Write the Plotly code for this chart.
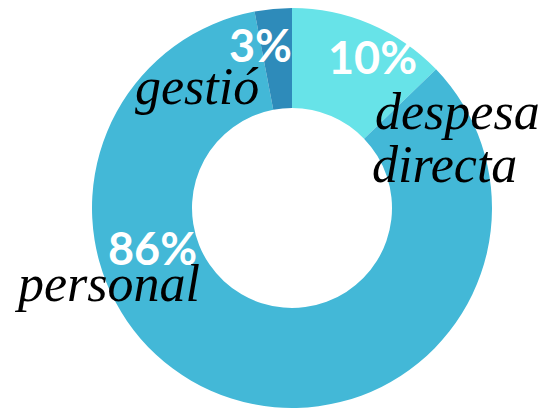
import plotly.graph_objects as go

W, H = 556, 412
OFF = 8  # page body margin shift

categories = ["despesa directa", "personal", "gestió"]
values = [12.8, 84.2, 3.0]          # slice sizes as drawn
pct_labels = ["10%", "86%", "3%"]    # printed labels
colors = ["#67E3E8", "#43B8D7", "#2E8BBA"]

cx, cy, r = 292 - OFF, 208 - OFF, 200
fig = go.Figure(go.Pie(
    labels=categories,
    values=values,
    hole=0.5,
    sort=False,
    direction="clockwise",
    rotation=0,
    marker=dict(colors=colors, line=dict(width=0)),
    textinfo="none",
    hoverinfo="label+percent",
    showlegend=False,
    domain=dict(x=[(cx - r) / W, (cx + r) / W], y=[max(0, 1 - (cy + r) / H), 1]),
))

def px(x, y):
    return (x - OFF) / W, 1 - (y - OFF) / H

pct_pos = [(372, 57), (152, 248), (260, 45)]
for t, (x, y) in zip(pct_labels, pct_pos):
    ax, ay = px(x, y)
    fig.add_annotation(x=ax, y=ay, xref="paper", yref="paper", text=t, showarrow=False,
                       xanchor="center", yanchor="middle",
                       font=dict(family="Lato", size=45, color="white", weight="bold"))

script_font = dict(family="Liberation Serif", size=52, color="black", style="italic")
name_items = [
    ("despesa", 373, 111, "left"),
    ("directa", 370, 165, "left"),
    ("gestió", 197, 86, "center"),
    ("personal", 107, 283, "center"),
]
for t, x, y, anc in name_items:
    ax, ay = px(x, y)
    fig.add_annotation(x=ax, y=ay, xref="paper", yref="paper", text=t, showarrow=False,
                       xanchor=anc, yanchor="middle", font=script_font)

fig.update_layout(width=W, height=H, margin=dict(l=0, r=0, t=0, b=0),
                  paper_bgcolor="white", plot_bgcolor="white")
fig.write_html("out.html")
